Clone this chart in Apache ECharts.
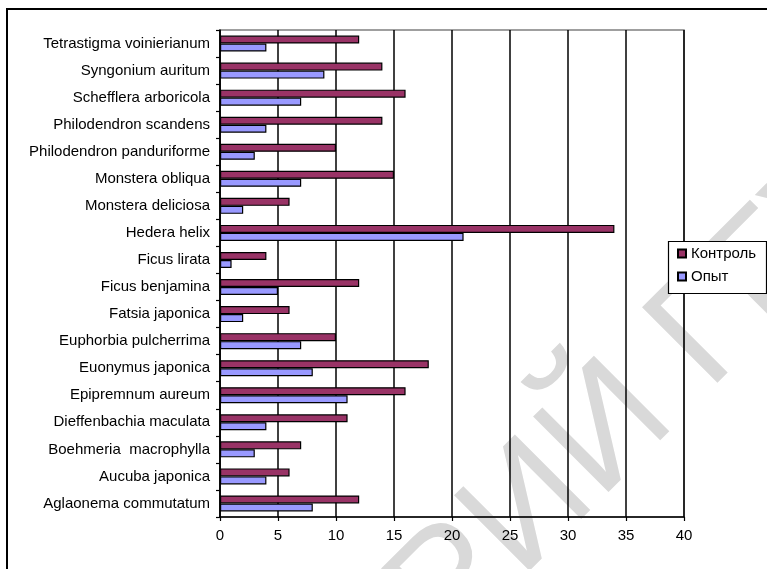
<!DOCTYPE html>
<html>
<head>
<meta charset="utf-8">
<script src="https://cdn.jsdelivr.net/npm/echarts@6/dist/echarts.min.js"></script>
<style>
  html, body { margin: 0; padding: 0; background: #fff; }
  #chart { width: 767px; height: 569px; }
</style>
</head>
<body>
<div id="chart"></div>
<script>
// категории сверху вниз, как на рисунке
const plants = [
  'Tetrastigma voinierianum',
  'Syngonium auritum',
  'Schefflera arboricola',
  'Philodendron scandens',
  'Philodendron panduriforme',
  'Monstera obliqua',
  'Monstera deliciosa',
  'Hedera helix',
  'Ficus lirata',
  'Ficus benjamina',
  'Fatsia japonica',
  'Euphorbia pulcherrima',
  'Euonymus japonica',
  'Epipremnum aureum',
  'Dieffenbachia maculata',
  'Boehmeria  macrophylla',
  'Aucuba japonica',
  'Aglaonema commutatum'
];
const control = [12, 14, 16, 14, 10, 15, 6, 34, 4, 12, 6, 10, 18, 16, 11, 7, 6, 12];
const experiment = [4, 9, 7, 4, 3, 7, 2, 21, 1, 5, 2, 7, 8, 11, 4, 3, 4, 8];
const xTicks = [0, 5, 10, 15, 20, 25, 30, 35, 40];

const font = 'Arial, "Liberation Sans", sans-serif';
const myChart = echarts.init(document.getElementById('chart'));

const option = {
  animation: false,
  graphic: [
    // водяной знак
    {
      type: 'text',
      z: -10,
      x: 642,
      y: 398,
      rotation: Math.PI / 4,
      style: {
        text: 'РИЙ ГГУ',
        fontSize: 155,
        fontFamily: font,
        fill: '#d9d9d9',
        align: 'center',
        verticalAlign: 'middle'
      }
    },
    // внешняя рамка
    {
      type: 'rect',
      z: 10,
      shape: { x: 7, y: 9, width: 800, height: 600 },
      style: { fill: 'none', stroke: '#000', lineWidth: 2 }
    },
    // рамка легенды
    {
      type: 'rect',
      z: 3,
      shape: { x: 668.5, y: 241.5, width: 98, height: 52 },
      style: { fill: '#fff', stroke: '#000', lineWidth: 1.2 }
    }
  ],
  grid: {
    left: 220,
    top: 30,
    right: 83,
    bottom: 52,
    show: true,
    borderColor: '#808080',
    borderWidth: 1.5,
    backgroundColor: 'transparent'
  },
  legend: {
    data: ['Контроль', 'Опыт'],
    orient: 'vertical',
    left: 677,
    top: 246,
    padding: 0,
    itemWidth: 8,
    itemHeight: 8,
    itemGap: 8,
    icon: 'rect',
    textStyle: { fontSize: 15, fontFamily: font, color: '#000' }
  },
  xAxis: {
    type: 'value',
    min: xTicks[0],
    max: xTicks[xTicks.length - 1],
    interval: 5,
    axisLine: { show: true, lineStyle: { color: '#000', width: 1.5 } },
    axisTick: { show: true, length: 4, lineStyle: { color: '#000', width: 1.2 } },
    axisLabel: { fontSize: 15, fontFamily: font, color: '#000', margin: 11 },
    splitLine: { show: true, lineStyle: { color: '#000', width: 1.5 } }
  },
  yAxis: {
    type: 'category',
    data: plants,
    inverse: true,
    axisLine: { show: true, lineStyle: { color: '#000', width: 1.5 } },
    axisTick: { show: true, length: 4, lineStyle: { color: '#000', width: 1.2 } },
    axisLabel: { fontSize: 15, fontFamily: font, color: '#000', margin: 10 },
    splitLine: { show: false }
  },
  series: [
    {
      name: 'Контроль',
      type: 'bar',
      data: control,
      barWidth: 8,
      barGap: '0%',
      itemStyle: { color: '#993366', borderColor: '#000', borderWidth: 1.2 }
    },
    {
      name: 'Опыт',
      type: 'bar',
      data: experiment,
      barWidth: 8,
      barGap: '0%',
      itemStyle: { color: '#9999ff', borderColor: '#000', borderWidth: 1.2 }
    }
  ]
};
myChart.setOption(option);
</script>
</body>
</html>
